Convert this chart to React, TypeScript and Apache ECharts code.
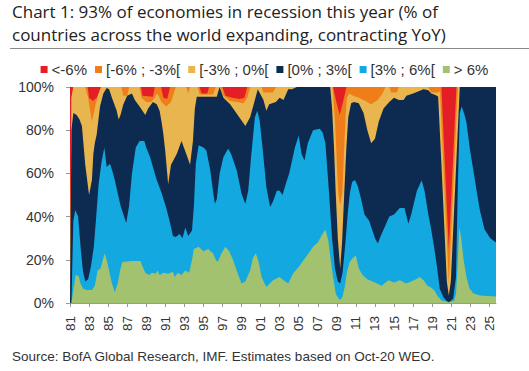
import React, { useEffect, useRef } from "react";
import * as echarts from "echarts";

// x = years since the start of 1981, y = cumulative share of countries (%)
const TITLE = "Chart 1: 93% of economies in recession this year (% of\ncountries across the world expanding, contracting YoY)";
const SOURCE = "Source: BofA Global Research, IMF. Estimates based on Oct-20 WEO.";
const START_YEAR = 1981;
const END_T = 44.7;
const YEAR_TICKS = [1981, 1983, 1985, 1987, 1989, 1991, 1993, 1995, 1997, 1999, 2001, 2003, 2005, 2007, 2009, 2011, 2013, 2015, 2017, 2019, 2021, 2023, 2025];
const Y_TICKS = [0, 20, 40, 60, 80, 100];

const BAND_NAMES = ["<-6%", "[-6% ; -3%[", "[-3% ; 0%[", "[0% ; 3%[", "[3% ; 6%[", "> 6%"];
const BAND_COLORS = ["#e41e26", "#ef7d1a", "#e9b54f", "#0d2a50", "#14a8e1", "#a2c26f"];

// top edge of the "<-6%" band (always 100%)
const RED_TOP: [number, number][] = [[0, 100], [44.7, 100]];

// top edge of the "[-6% ; -3%[" band
const ORANGE_TOP: [number, number][] = [
  [0, 0], [0.15, 95], [0.35, 100], [1.85, 100], [2.0, 95], [2.4, 93.5], [2.8, 95], [3.0, 97], [3.2, 100],
  [7.45, 100], [7.6, 96], [8.7, 95.5], [8.9, 100], [9.55, 100], [9.8, 95], [10.2, 94.5], [10.5, 100],
  [13.6, 100], [13.8, 97], [14.4, 97], [14.6, 100], [16.0, 100], [16.3, 96], [17.0, 95], [17.8, 94.5],
  [18.3, 95], [18.6, 100], [27.6, 100], [27.95, 93], [28.3, 87], [28.65, 93], [29.0, 100],
  [38.97, 100], [39.48, 50], [39.75, 25], [40.02, 50], [40.55, 100], [44.7, 100],
];

// top edge of the "[-3% ; 0%[" band
const YELLOW_TOP: [number, number][] = [
  [0, 0], [0.15, 95], [0.35, 100], [1.6, 100], [1.9, 95], [2.3, 84], [2.7, 92], [3.0, 97], [3.3, 100],
  [5.4, 100], [5.6, 96], [6.0, 96], [6.2, 100], [7.3, 100], [7.5, 95], [8.0, 93], [8.5, 93], [8.9, 95],
  [9.1, 97], [9.3, 96], [9.6, 93], [10.1, 91], [10.6, 93], [11.1, 100], [12.2, 100], [12.4, 97], [12.6, 100],
  [13.4, 100], [13.6, 96.5], [15.0, 96.5], [15.3, 100], [15.8, 100], [16.1, 96], [16.8, 93.5], [17.5, 93],
  [18.2, 92.5], [18.6, 95], [18.9, 100], [20.1, 100], [20.3, 97.5], [21.3, 97.5], [21.6, 100],
  [27.55, 100], [27.8, 85], [28.0, 65], [28.16, 51], [28.35, 45], [28.58, 51], [28.75, 70], [28.9, 85],
  [29.05, 95], [29.3, 97], [29.7, 96], [30.3, 95], [30.8, 94], [31.6, 92], [32.3, 94], [32.8, 97], [33.1, 100],
  [33.5, 100], [33.7, 97.5], [34.3, 97.5], [34.5, 100], [37.6, 100], [37.9, 97.5], [38.6, 97.5],
  [38.82, 98], [39.32, 50], [39.75, 9], [40.18, 50], [40.7, 100], [44.7, 100],
];

// top edge of the "[0% ; 3%[" band
const NAVY_TOP: [number, number][] = [
  [0, 0], [0.15, 80], [0.35, 88], [0.7, 87], [1.0, 85], [1.25, 82], [1.6, 64], [2.0, 50], [2.3, 57],
  [2.45, 69], [2.6, 74], [2.8, 78], [3.15, 91], [3.5, 97], [3.85, 99.5], [4.1, 99], [4.4, 95], [4.9, 89],
  [5.1, 85], [5.3, 87], [5.6, 92], [6.0, 96], [6.5, 97], [6.8, 94], [7.3, 91], [7.9, 87], [8.2, 90],
  [8.7, 93], [9.1, 92], [9.4, 89], [9.6, 84], [9.8, 78], [10.0, 70], [10.3, 55], [10.6, 64], [11.2, 69],
  [11.7, 75], [12.2, 69], [12.6, 64], [12.9, 75], [13.1, 90], [13.3, 95.5], [14.0, 95.5], [15.4, 95.5],
  [15.7, 100], [16.1, 95], [16.8, 92], [17.5, 87.6], [18.0, 84.5], [18.4, 82], [18.9, 86], [19.4, 94],
  [19.7, 99], [20.3, 94], [20.6, 89], [20.9, 92], [21.6, 93], [22.0, 95], [22.4, 94], [22.9, 99],
  [23.3, 99], [23.8, 100], [27.3, 100], [27.5, 90], [27.7, 72], [27.88, 51], [28.1, 30], [28.35, 16],
  [28.55, 28], [28.78, 51], [29.0, 72], [29.2, 86], [29.5, 92.5], [29.8, 93], [30.3, 92.5], [30.8, 88],
  [31.2, 80], [31.6, 74], [32.0, 76], [32.4, 84], [32.9, 90], [33.5, 93], [34.0, 95], [34.5, 94],
  [35.0, 94], [35.3, 96], [36.0, 97], [37.1, 99], [37.6, 98.5], [37.9, 97], [38.2, 96.5], [38.5, 96],
  [38.63, 95.5], [39.02, 60], [39.33, 30], [39.54, 10], [39.75, 3.5], [39.96, 10], [40.17, 30],
  [40.48, 60], [40.9, 100], [44.7, 100],
];

// top edge of the "[3% ; 6%[" band
const BLUE_TOP: [number, number][] = [
  [0, 0], [0.15, 0], [0.35, 38], [0.55, 43], [0.85, 40], [1.0, 32], [1.15, 24], [1.35, 15], [1.6, 10],
  [1.9, 11], [2.2, 17], [2.5, 26], [2.75, 40], [3.0, 55], [3.3, 65], [3.6, 72], [3.85, 63], [4.2, 64.5],
  [4.45, 61], [4.7, 57], [4.95, 52], [5.3, 45], [5.9, 37], [6.2, 45], [6.5, 60], [6.9, 72], [7.3, 75],
  [7.8, 75], [8.0, 72], [8.4, 67.6], [8.7, 63], [9.1, 57], [9.6, 51], [10.1, 44], [10.5, 37], [10.8, 31],
  [11.1, 30.5], [11.5, 32], [11.8, 30], [12.1, 35], [12.4, 31], [12.8, 33.6], [13.0, 45], [13.2, 64.5],
  [13.5, 73], [14.0, 72], [14.3, 70.7], [14.7, 62], [15.0, 52], [15.2, 46], [15.4, 48], [15.7, 60],
  [16.1, 67.6], [16.6, 71.5], [16.9, 69], [17.5, 61.4], [18.0, 50.6], [18.4, 46], [18.7, 52], [19.0, 67.6],
  [19.4, 86], [19.65, 89], [19.9, 84.6], [20.3, 67.6], [20.6, 53.7], [21.0, 44.4], [21.3, 47], [21.7, 52],
  [22.0, 52], [22.3, 50], [22.7, 56], [23.0, 60], [23.3, 66], [23.6, 72], [24.0, 77.6], [24.3, 69],
  [24.6, 66], [24.95, 74], [25.5, 80], [26.2, 80.7], [26.5, 79], [26.8, 74], [27.18, 51], [27.5, 30],
  [27.8, 16], [28.1, 10], [28.35, 9], [28.6, 14], [28.9, 28], [29.15, 42], [29.37, 51], [29.6, 56],
  [29.9, 57], [30.2, 54], [30.5, 49], [30.9, 41], [31.4, 38], [32.0, 30], [32.3, 27.5], [32.6, 31],
  [33.0, 35], [33.5, 40], [34.0, 41], [34.6, 44], [35.1, 44], [35.5, 36.7], [35.8, 41], [36.4, 52],
  [36.9, 56.8], [37.2, 52], [37.6, 41], [37.9, 34], [38.2, 26], [38.5, 17], [38.8, 6.5], [39.2, 2.5],
  [39.5, 1], [39.75, 0.3], [40.2, 2], [40.5, 12], [40.7, 55], [40.9, 88], [41.1, 91], [41.4, 87],
  [41.6, 83.6], [41.97, 71], [42.3, 62], [42.7, 51], [43.0, 43], [43.5, 34], [44.1, 30], [44.7, 28],
];

// top edge of the "> 6%" band
const GREEN_TOP: [number, number][] = [
  [0, 0], [0.15, 0], [0.35, 6], [0.6, 13], [0.9, 12.5], [1.1, 9], [1.4, 6.5], [1.8, 6], [2.3, 6], [2.6, 8],
  [2.9, 15], [3.2, 16], [3.45, 20], [3.65, 23], [3.9, 19], [4.1, 15], [4.35, 10], [4.7, 5], [5.0, 9],
  [5.3, 16], [5.5, 19], [6.5, 19.5], [7.4, 19.5], [7.6, 17], [7.9, 14], [8.3, 13], [8.6, 14], [9.0, 13.5],
  [9.2, 15], [9.4, 13], [9.8, 14], [10.3, 13.5], [10.8, 14.5], [11.0, 12], [11.3, 14], [11.7, 13],
  [12.1, 15], [12.5, 14], [12.8, 20], [13.0, 25], [13.5, 26], [14.0, 24], [14.5, 25], [15.0, 23],
  [15.3, 20], [15.5, 19], [15.9, 23], [16.3, 26], [16.7, 24], [17.1, 20], [17.6, 13.6], [18.0, 9],
  [18.4, 10], [18.9, 15], [19.2, 21], [19.5, 23], [19.8, 19], [20.1, 12], [20.6, 7.4], [21.3, 10.5],
  [22.0, 12], [22.4, 10.5], [22.9, 9], [23.4, 13.6], [24.0, 16.7], [24.5, 19.8], [25.0, 22.8], [25.5, 26],
  [26.0, 28], [26.5, 32], [26.8, 34], [27.1, 29], [27.3, 22], [27.6, 12], [27.9, 4], [28.2, 2],
  [28.4, 1.5], [28.6, 3], [28.85, 8], [29.05, 14], [29.35, 19], [29.7, 21], [30.0, 22], [30.3, 16],
  [30.7, 13], [31.2, 11], [32.0, 9.5], [32.7, 8], [33.4, 10.5], [34.0, 9.5], [34.6, 10.5], [35.3, 9],
  [35.8, 10], [36.3, 11], [36.7, 12], [37.1, 10.5], [37.5, 8], [37.8, 7.4], [38.2, 6], [38.6, 3],
  [39.0, 1.2], [39.75, 0.3], [40.3, 1], [40.5, 4], [40.65, 15], [40.85, 35], [41.05, 30], [41.3, 20],
  [41.6, 12], [41.9, 7], [42.3, 4.5], [43.0, 3.5], [44.7, 3],
];

const BAND_TOPS = [RED_TOP, ORANGE_TOP, YELLOW_TOP, NAVY_TOP, BLUE_TOP, GREEN_TOP];

export default function App() {
  const ref = useRef<HTMLDivElement>(null);
  useEffect(() => {
    document.body.style.margin = "0";
    if (!ref.current) return;
    const chart = echarts.init(ref.current, null, { renderer: "svg" });
    const series = BAND_TOPS.map((pts, i) => ({
      name: BAND_NAMES[i],
      type: "line",
      data: pts.map(([t, v]) => [START_YEAR + t, v]),
      symbol: "none",
      showSymbol: false,
      color: BAND_COLORS[i],
      lineStyle: { width: 0 },
      areaStyle: { color: BAND_COLORS[i], opacity: 1, origin: "start" },
      silent: true,
      z: 2 + i,
    }));
    chart.setOption({
      animation: false,
      backgroundColor: "#ffffff",
      title: [
        {
          text: TITLE,
          left: 12,
          top: 0,
          padding: 0,
          textStyle: { fontFamily: "Open Sans", fontSize: 17, fontWeight: "normal", color: "#222", lineHeight: 23 },
        },
        {
          text: SOURCE,
          left: 12,
          top: 349,
          padding: 0,
          textStyle: { fontFamily: "Liberation Sans", fontSize: 13.5, fontWeight: "normal", color: "#333" },
        },
      ],
      graphic: [
        { type: "line", shape: { x1: 10, y1: 48.5, x2: 529, y2: 48.5 }, style: { stroke: "#8a8a8a", lineWidth: 1 } },
      ],
      legend: {
        data: BAND_NAMES,
        left: "center",
        top: 57,
        icon: "rect",
        itemWidth: 7,
        itemHeight: 7,
        itemGap: 8,
        textStyle: { fontFamily: "Liberation Sans", fontSize: 15, color: "#333", padding: [0, 0, 0, -1] },
      },
      grid: { left: 70, top: 87, width: 426, height: 216 },
      xAxis: {
        type: "value",
        min: START_YEAR,
        max: START_YEAR + END_T,
        splitLine: { show: false },
        axisLine: { show: true, lineStyle: { color: "#999" } },
        axisTick: { show: true, length: 4, customValues: YEAR_TICKS, lineStyle: { color: "#999" } },
        axisLabel: {
          customValues: YEAR_TICKS,
          rotate: 90,
          margin: 13,
          fontFamily: "Liberation Sans",
          fontSize: 13.5,
          color: "#333",
          formatter: (v: number) => String(Math.round(v)).slice(-2),
        },
      },
      yAxis: {
        type: "value",
        min: 0,
        max: 100,
        interval: 20,
        splitLine: { show: false },
        axisLine: { show: true, lineStyle: { color: "#999" } },
        axisTick: { show: true, length: 4, lineStyle: { color: "#999" } },
        axisLabel: {
          margin: 16,
          fontFamily: "Liberation Sans",
          fontSize: 14,
          color: "#333",
          customValues: Y_TICKS,
          formatter: (v: number) => `${v}%`,
        },
      },
      series,
    });
    return () => chart.dispose();
  }, []);
  return <div ref={ref} style={{ position: "absolute", left: 0, top: 0, width: 529, height: 371 }} />;
}
